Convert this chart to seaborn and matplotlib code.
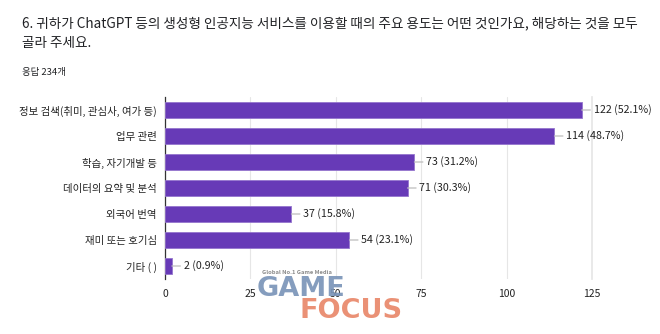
import matplotlib
matplotlib.use("Agg")
import matplotlib.pyplot as plt
import seaborn as sns
import pandas as pd

categories = ["정보 검색(취미, 관심사, 여가 등)", "업무 관련", "학습, 자기개발 등",
              "데이터의 요약 및 분석", "외국어 번역", "재미 또는 호기심", "기타 ( )"]
counts = [122, 114, 73, 71, 37, 54, 2]
percents = [52.1, 48.7, 31.2, 30.3, 15.8, 23.1, 0.9]
xticks = [0, 25, 50, 75, 100, 125]
title = "6. 귀하가 ChatGPT 등의 생성형 인공지능 서비스를 이용할 때의 주요 용도는 어떤 것인가요, 해당하는 것을 모두\n골라 주세요."
subtitle = "응답 234개"

sns.set_theme(style="white")
plt.rcParams["font.family"] = ["Noto Sans CJK KR", "DejaVu Sans"]

df = pd.DataFrame({"category": categories, "count": counts})

fig = plt.figure(figsize=(6.6, 3.34), dpi=100)
ax = fig.add_axes([165 / 660, 1 - 279 / 334, (592 - 165) / 660, (279 - 97) / 334])

sns.barplot(data=df, y="category", x="count", color="#673AB7", saturation=1,
            width=0.615, edgecolor="#9575CD", linewidth=0.6, ax=ax, zorder=3)

ax.set_xlim(0, 125)
ax.set_xticks(xticks)
ax.set_xticklabels([str(t) for t in xticks])
ax.set_ylim(6.5, -0.5)
ax.set_xlabel("")
ax.set_ylabel("")
ax.grid(axis="x", color="#e6e6e6", linewidth=0.8, zorder=0)
ax.grid(axis="y", visible=False)
for side in ["top", "bottom"]:
    ax.spines[side].set_visible(False)
ax.spines["right"].set_color("#e6e6e6")
ax.spines["left"].set_color("#333333")
ax.spines["left"].set_linewidth(0.9)
ax.tick_params(axis="both", length=0, labelsize=7.5, colors="#222222")
ax.tick_params(axis="x", pad=7)
ax.tick_params(axis="y", pad=6)

for i, (c, p) in enumerate(zip(counts, percents)):
    ax.annotate(f"{c} ({p}%)", xy=(c, i), xytext=(8.5, 0), textcoords="offset points",
                ha="left", va="center", fontsize=7.7, color="#222222",
                arrowprops=dict(arrowstyle="-", color="#bdbdbd", lw=0.9,
                                shrinkA=0, shrinkB=0), zorder=4)

fig.text(22 / 660, 1 - 33 / 334, title, fontsize=9.8, color="#202124",
         va="center", ha="left", linespacing=1.5)
fig.text(22 / 660, 1 - 72 / 334, subtitle, fontsize=6.8, color="#202124",
         va="center", ha="left")

# site watermark
fig.text(262 / 660, 1 - 273 / 334, "Global No.1 Game Media", fontsize=4.2,
         color="#8a8a8a", fontweight="bold", ha="left", va="center")
fig.text(257 / 660, 1 - 289 / 334, "GAME", fontsize=19.5, color="#7b95b9",
         fontweight="bold", ha="left", va="center", alpha=0.92,
         family=["DejaVu Sans"])
fig.text(299 / 660, 1 - 311 / 334, "FOCUS", fontsize=19.5, color="#e9886a",
         fontweight="bold", ha="left", va="center", alpha=0.92,
         family=["DejaVu Sans"])

fig.savefig("out.png", dpi=100)
